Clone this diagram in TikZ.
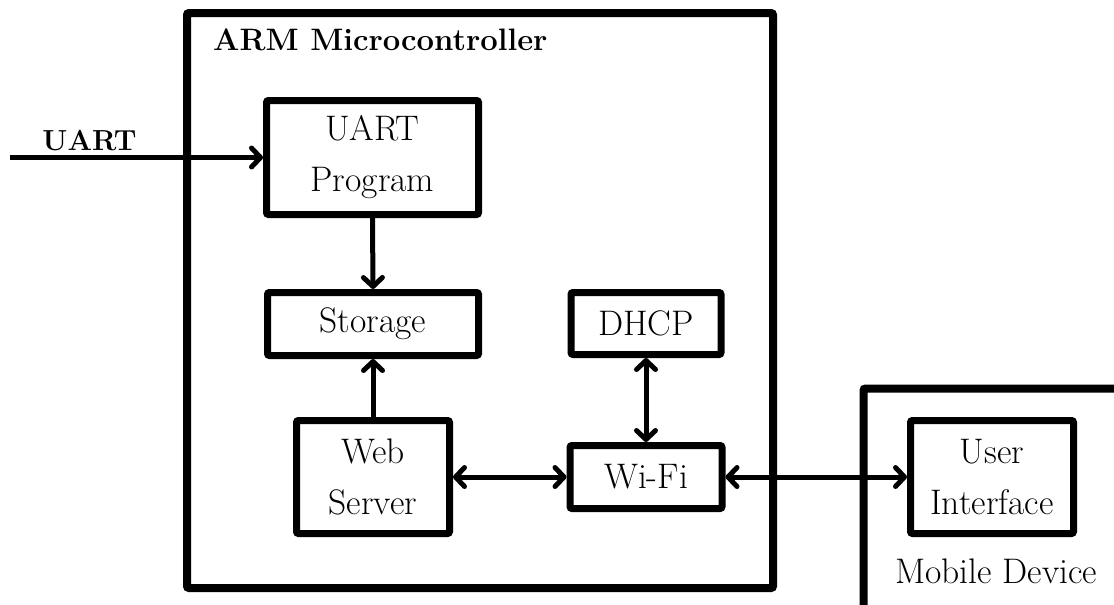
\documentclass[tikz,border=0pt]{standalone}
\usetikzlibrary{arrows.meta}
\begin{document}
\begin{tikzpicture}[x=1pt,y=-1pt,
  blk/.style={draw, line width=7pt, rounded corners=2pt, inner sep=0pt, align=center,
    font=\fontsize{35.5}{51}\selectfont},
  frame/.style={draw, line width=8pt, rounded corners=2pt},
  conn/.style={line width=5pt, arrows={-Straight Barb[length=9pt,width=19pt,round]}},
  biconn/.style={line width=5pt, arrows={Straight Barb[length=9pt,width=19pt,round]-Straight Barb[length=9pt,width=19pt,round]}},
  lbl/.style={inner sep=0pt, anchor=base}]
\useasboundingbox (0,0) rectangle (1114,605);
\clip (0,0) rectangle (1114,605);
\fill[white] (0,0) rectangle (1114,605);
% frames
\draw[frame] (187,13) rectangle (773,588);
\draw[frame] (863.5,388.5) rectangle (1140,640);
\node[lbl, anchor=base west, font=\fontsize{31}{37}\selectfont\bfseries] (armlbl) at (213,50) {ARM Microcontroller};
\node[lbl, font=\fontsize{35.5}{42}\selectfont] (moblbl) at (996,583) {Mobile Device};
\node[lbl, font=\fontsize{29}{35}\selectfont\bfseries] (uartlbl) at (89.5,150) {UART};
% blocks
\node[blk, minimum width=212pt, minimum height=114pt] (up) at (372.5,157.5) {UART\\Program};
\node[blk, minimum width=211pt, minimum height=63pt] (st) at (373,324) {Storage};
\node[blk, minimum width=150pt, minimum height=62pt] (dhcp) at (646,323.5) {DHCP};
\node[blk, minimum width=153pt, minimum height=113pt] (web) at (373,477) {Web\\Server};
\node[blk, minimum width=152pt, minimum height=63pt] (wifi) at (646,477) {Wi-Fi};
\node[blk, minimum width=163pt, minimum height=113pt] (ui) at (992,477) {User\\Interface};
% connectors
\coordinate (uin) at (10,157.5);
\draw[conn] (uin) -- (up.west);
\draw[conn] (up.south) -- (st.north);
\draw[conn] (web.north) -- (st.south);
\draw[biconn] (dhcp.south) -- (wifi.north);
\draw[biconn] (web.east) -- (wifi.west);
\draw[biconn] (wifi.east) -- (ui.west);
\end{tikzpicture}
\end{document}
